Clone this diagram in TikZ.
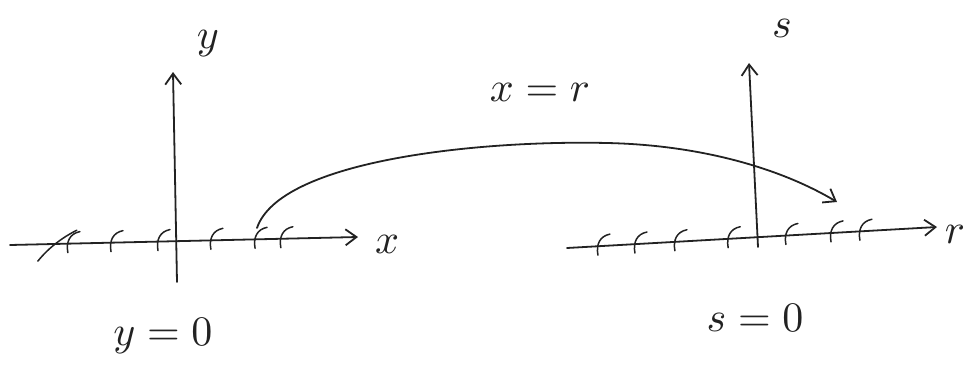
\documentclass[tikz,border=0pt]{standalone}
\usepackage{graphicx}
\usetikzlibrary{arrows.meta,calc}
\definecolor{ink}{HTML}{222222}
\newcommand{\biglbl}[1]{\scalebox{4.2}{#1}}
\tikzset{
  hand/.style={draw=ink,line width=1.8pt,line cap=round,line join=round},
  axisarrow/.style={hand,-{Straight Barb[length=11pt,width=16pt,line width=1.8pt]}},
  lbl/.style={text=ink,inner sep=0pt},
  hatch/.pic={\draw[hand,line width=1.5pt] (10,-12) .. controls (0,-10) and (-4,-2) .. (-2,9);},
  longhatch/.pic={\draw[hand,line width=1.5pt] (32,-14) .. controls (20,-8) and (5,2) .. (-7,17);},
}
\begin{document}
\begin{tikzpicture}[x=1pt,y=-1pt]
\useasboundingbox (0,0) rectangle (969,375);
% left system
\coordinate (xl) at (10,245);
\coordinate (xr) at (358,237);
\coordinate (yb) at (177,282);
\coordinate (yt) at (173,72);
\draw[axisarrow] (xl) -- (xr);
\draw[axisarrow] (yb) -- (yt);
\foreach \p in {0.172,0.296,0.431,0.583,0.710,0.784}
  \path ($(xl)!\p!(xr)$) pic{hatch};
\path ($(xl)!0.10!(xr)$) pic{longhatch};
\node[lbl] (ly) at (208,44) {\biglbl{$y$}};
\node[lbl] (lx) at (387,244) {\biglbl{$x$}};
\node[lbl] (ly0) at (163,336) {\biglbl{$y=0$}};
% right system
\coordinate (rl) at (567,248);
\coordinate (rr) at (937,227);
\coordinate (sb) at (758,247);
\coordinate (st) at (749,63);
\draw[axisarrow] (rl) -- (rr);
\draw[axisarrow] (sb) -- (st);
\foreach \p in {0.089,0.189,0.297,0.441,0.597,0.719,0.797}
  \path ($(rl)!\p!(rr)$) pic{hatch};
\node[lbl] (ls) at (782,28) {\biglbl{$s$}};
\node[lbl] (lr) at (955,234) {\biglbl{$r$}};
\node[lbl] (ls0) at (755,318) {\biglbl{$s=0$}};
% mapping
\coordinate (c0) at (257,228);
\coordinate (cm) at (607,143);
\coordinate (c1) at (837,202);
\draw[axisarrow] (c0) .. controls (280,160) and (480,140) .. (cm)
  .. controls (700,145) and (780,168) .. (c1);
\node[lbl] (lxr) at (540,92) {\biglbl{$x=r$}};
\end{tikzpicture}
\end{document}
